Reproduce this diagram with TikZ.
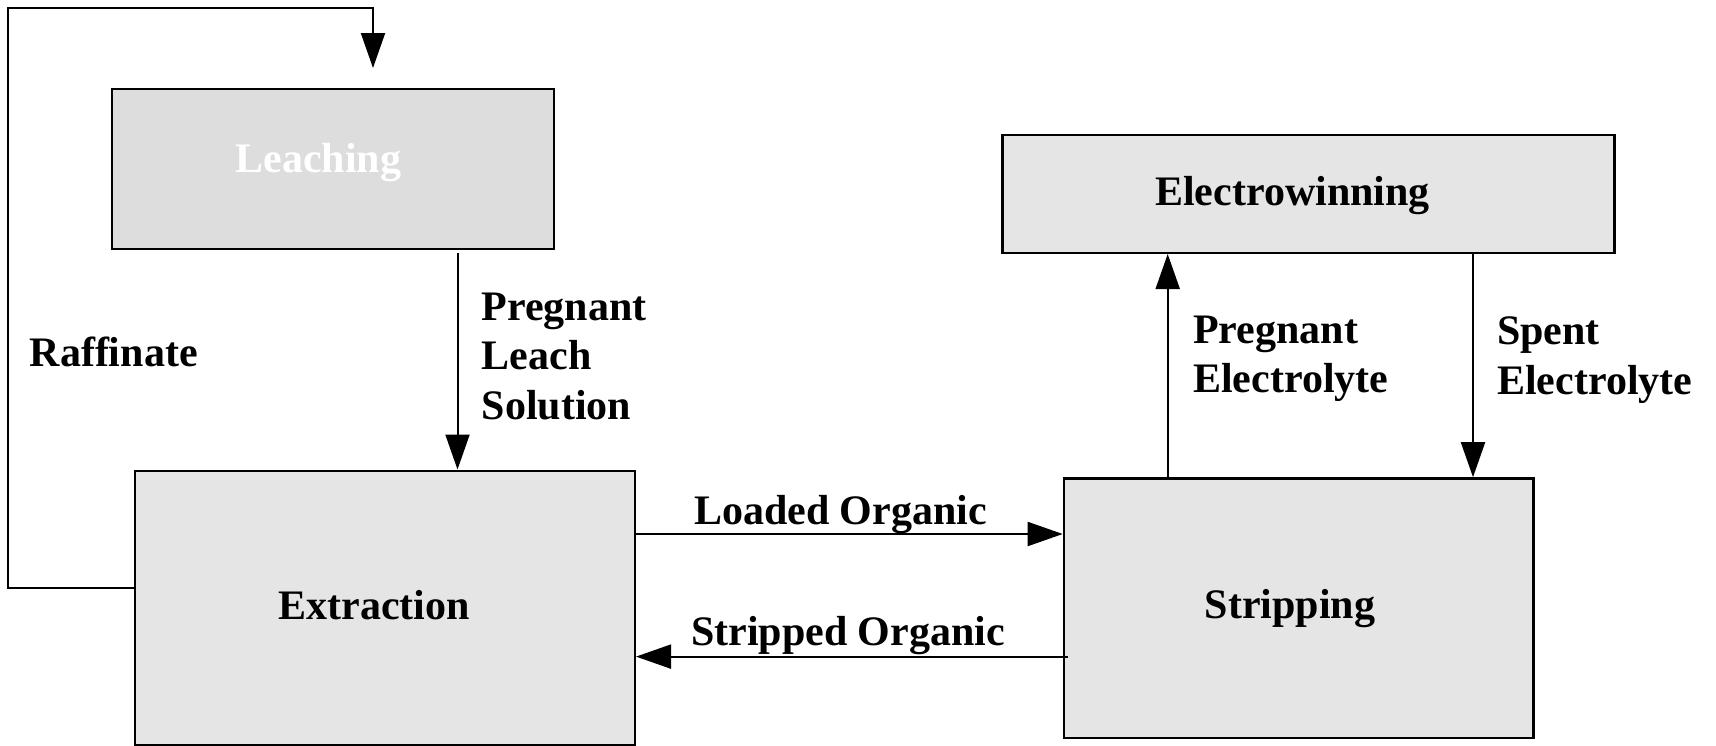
\documentclass[tikz,border=0pt]{standalone}
\usepackage{fontspec}
\setmainfont{Liberation Serif}
\usetikzlibrary{arrows.meta}
\definecolor{boxgray}{HTML}{E5E5E5}
\definecolor{leachgray}{HTML}{DDDDDD}
\begin{document}
\begin{tikzpicture}[x=1pt,y=-1pt,
  procbox/.style={draw=black,line width=2.5pt,fill=boxgray,rectangle,anchor=north west,inner sep=0pt},
  txt/.style={inner sep=0pt,font=\bfseries\fontsize{42}{49.5}\selectfont,align=left},
  flow/.style={line width=2pt,-{Triangle[length=35pt,width=24pt]}},
  plainline/.style={line width=2pt}]
\useasboundingbox (0,0) rectangle (1716,745);
% boxes
\node[procbox,fill=leachgray,minimum width=442pt,minimum height=160pt] (leach) at (110.5,87.6) {};
\node[procbox,minimum width=500pt,minimum height=274.5pt] (extr) at (133.5,469.5) {};
\node[procbox,minimum width=612pt,minimum height=118pt] (ewin) at (1001.4,133.5) {};
\node[procbox,minimum width=469.5pt,minimum height=259.3pt] (strip) at (1062.7,477.2) {};
% box texts
\node[txt,text=white] (tleach) at (318.5,163) {Leaching};
\node[txt] (textr) at (374,605) {Extraction};
\node[txt] (tewin) at (1292.5,196) {Electrowinning};
\node[txt] (tstrip) at (1290,609) {Stripping};
% raffinate loop
\coordinate (rafOut) at (extr.west |- 0,587.7);
\coordinate (rafCorner) at (7.7,7.7);
\coordinate (rafEnd) at (373,68);
\draw[flow] (rafOut) -| (rafCorner) -| (rafEnd);
\node[txt,anchor=west] (lraf) at (29.5,352) {Raffinate};
% pregnant leach solution
\coordinate (plsStart) at (457.5,252.8);
\draw[flow] (plsStart) -- (plsStart |- extr.north);
\node[txt,anchor=west] (lpls) at (481.5,356) {Pregnant\\Leach\\Solution};
% loaded organic
\draw[flow] (extr.east |- 0,534) -- (strip.west |- 0,534);
\node[txt] (lload) at (840.5,515) {Loaded Organic};
% stripped organic
\coordinate (soStart) at (1068,656.6);
\draw[flow] (soStart) -- (extr.east |- soStart);
\node[txt] (lstrip) at (848,636) {Stripped Organic};
% pregnant electrolyte
\draw[flow] (strip.north -| 1167.7,0) -- (ewin.south -| 1167.7,0);
\node[txt,anchor=west] (lpe) at (1193,359) {Pregnant\\Electrolyte};
% spent electrolyte
\draw[flow] (ewin.south -| 1473,0) -- (strip.north -| 1473,0);
\node[txt,anchor=west] (lse) at (1497,360) {Spent\\Electrolyte};
\end{tikzpicture}
\end{document}
